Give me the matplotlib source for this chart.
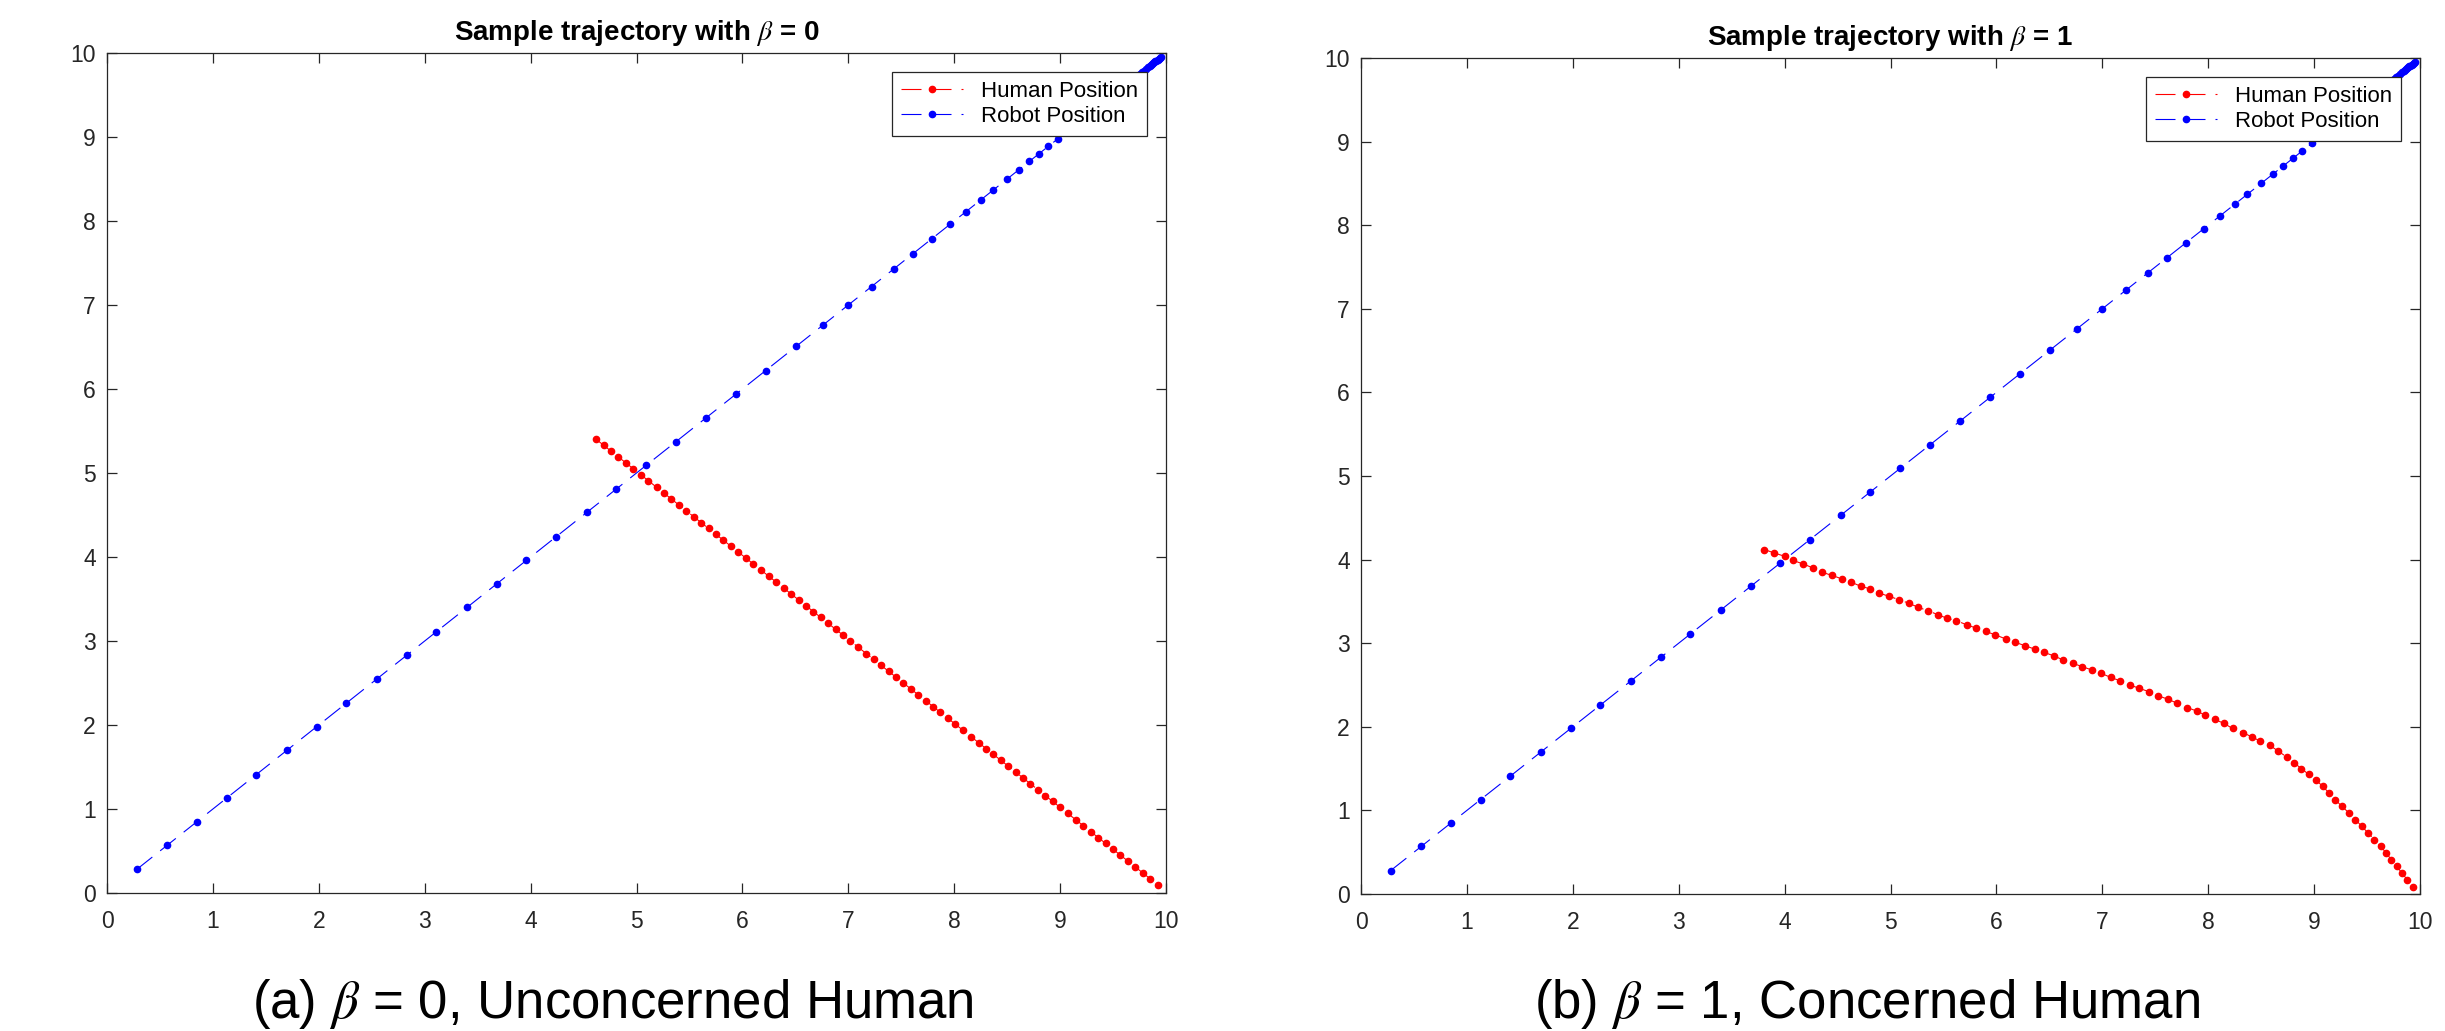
import matplotlib
matplotlib.use("Agg")
import matplotlib.pyplot as plt

# ---------------- data ----------------
robot_pos = [0.28, 0.57, 0.85, 1.13, 1.41, 1.70, 1.98, 2.26, 2.55, 2.83,
             3.11, 3.40, 3.68, 3.96, 4.24, 4.53, 4.81, 5.09, 5.37, 5.66,
             5.94, 6.22, 6.51, 6.76, 7.00, 7.22, 7.43, 7.61, 7.79, 7.96,
             8.11, 8.25, 8.37, 8.50, 8.61, 8.71, 8.80, 8.89, 8.98, 9.06,
             9.13, 9.20, 9.26, 9.32, 9.38, 9.43, 9.48, 9.53, 9.57, 9.61,
             9.65, 9.69, 9.72, 9.75, 9.77, 9.79, 9.81, 9.83, 9.85, 9.86,
             9.87, 9.88, 9.89, 9.90, 9.91, 9.92, 9.93, 9.94, 9.95]

human0_x = [4.62, 4.69, 4.76, 4.83, 4.90, 4.97, 5.04, 5.11, 5.19, 5.26,
            5.33, 5.40, 5.47, 5.54, 5.61, 5.68, 5.75, 5.82, 5.89, 5.96,
            6.03, 6.10, 6.18, 6.25, 6.32, 6.39, 6.46, 6.53, 6.60, 6.67,
            6.74, 6.81, 6.88, 6.95, 7.02, 7.09, 7.17, 7.24, 7.31, 7.38,
            7.45, 7.52, 7.59, 7.66, 7.73, 7.80, 7.87, 7.94, 8.01, 8.08,
            8.16, 8.23, 8.30, 8.37, 8.44, 8.51, 8.58, 8.65, 8.72, 8.79,
            8.86, 8.93, 9.00, 9.07, 9.15, 9.22, 9.29, 9.36, 9.43, 9.50,
            9.57, 9.64, 9.71, 9.78, 9.85, 9.92]
human0_y = [5.40, 5.33, 5.26, 5.19, 5.12, 5.05, 4.98, 4.91, 4.83, 4.76,
            4.69, 4.62, 4.55, 4.48, 4.41, 4.34, 4.27, 4.20, 4.13, 4.06,
            3.99, 3.92, 3.84, 3.77, 3.70, 3.63, 3.56, 3.49, 3.42, 3.35,
            3.28, 3.21, 3.14, 3.07, 3.00, 2.93, 2.85, 2.78, 2.71, 2.64,
            2.57, 2.50, 2.43, 2.36, 2.29, 2.22, 2.15, 2.08, 2.01, 1.94,
            1.86, 1.79, 1.72, 1.65, 1.58, 1.51, 1.44, 1.37, 1.30, 1.23,
            1.16, 1.09, 1.02, 0.95, 0.87, 0.80, 0.73, 0.66, 0.59, 0.52,
            0.45, 0.38, 0.31, 0.24, 0.17, 0.10]

human1_x = [3.81, 3.90, 4.00, 4.08, 4.17, 4.27, 4.35, 4.45, 4.54, 4.63,
            4.72, 4.81, 4.89, 4.99, 5.08, 5.17, 5.26, 5.35, 5.45, 5.53,
            5.62, 5.72, 5.81, 5.90, 5.99, 6.09, 6.18, 6.27, 6.36, 6.45,
            6.54, 6.63, 6.72, 6.81, 6.90, 6.99, 7.08, 7.17, 7.26, 7.35,
            7.44, 7.53, 7.62, 7.71, 7.80, 7.89, 7.97, 8.06, 8.15, 8.23,
            8.33, 8.41, 8.49, 8.58, 8.66, 8.74, 8.81, 8.88, 8.95, 9.02,
            9.08, 9.14, 9.20, 9.26, 9.33, 9.39, 9.45, 9.51, 9.57, 9.63,
            9.68, 9.73, 9.78, 9.83, 9.88, 9.93]
human1_y = [4.12, 4.08, 4.04, 3.99, 3.95, 3.90, 3.85, 3.81, 3.77, 3.73,
            3.68, 3.65, 3.60, 3.56, 3.52, 3.48, 3.43, 3.39, 3.34, 3.30,
            3.27, 3.22, 3.18, 3.14, 3.10, 3.05, 3.01, 2.97, 2.93, 2.89,
            2.85, 2.80, 2.76, 2.72, 2.68, 2.64, 2.59, 2.55, 2.50, 2.46,
            2.42, 2.37, 2.33, 2.28, 2.23, 2.19, 2.14, 2.09, 2.04, 1.98,
            1.93, 1.88, 1.83, 1.78, 1.71, 1.64, 1.57, 1.50, 1.43, 1.36,
            1.29, 1.21, 1.13, 1.05, 0.97, 0.89, 0.81, 0.73, 0.65, 0.57,
            0.49, 0.41, 0.33, 0.25, 0.17, 0.08]

tick_values = [0, 1, 2, 3, 4, 5, 6, 7, 8, 9, 10]
tick_labels = ["0", "1", "2", "3", "4", "5", "6", "7", "8", "9", "10"]
legend_labels = ["Human Position", "Robot Position"]
titles = [r"Sample trajectory with $\beta$ = 0", r"Sample trajectory with $\beta$ = 1"]
captions = [r"(a) $\beta$ = 0, Unconcerned Human", r"(b) $\beta$ = 1, Concerned Human"]

# ---------------- style ----------------
plt.rcParams["font.family"] = ["Liberation Sans", "DejaVu Sans"]
plt.rcParams["mathtext.fontset"] = "stix"

W, H = 2445, 1031
fig = plt.figure(figsize=(W / 100, H / 100), dpi=100)

axis_gray = "#262626"
dash = (0, (18, 9))

def make_axes(left_px, top_px, right_px, bottom_px):
    return fig.add_axes([left_px / W, 1 - bottom_px / H,
                         (right_px - left_px) / W, (bottom_px - top_px) / H])

panels = [
    (make_axes(107, 53, 1166, 893), human0_x, human0_y, titles[0]),
    (make_axes(1361, 58, 2420, 894), human1_x, human1_y, titles[1]),
]

for ax, hx, hy, title in panels:
    ax.plot(hx, hy, linestyle=dash, color=(1, 0, 0), lw=0.8,
            marker=".", ms=9, label=legend_labels[0])
    ax.plot(robot_pos, robot_pos, linestyle=dash, color=(0, 0, 1), lw=0.8,
            marker=".", ms=9, label=legend_labels[1])
    ax.set_xlim(0, 10)
    ax.set_ylim(0, 10)
    ax.set_xticks(tick_values)
    ax.set_xticklabels(tick_labels)
    ax.set_yticks(tick_values)
    ax.set_yticklabels(tick_labels)
    ax.tick_params(direction="in", length=7.2, width=0.9, colors=axis_gray,
                   labelsize=16.5, top=True, right=True)
    ax.tick_params(axis="x", pad=12)
    ax.tick_params(axis="y", pad=8)
    for s in ax.spines.values():
        s.set_color(axis_gray)
        s.set_linewidth(0.9)
    ax.set_title(title, fontsize=20, fontweight="bold", pad=9.4)
    leg = ax.legend(loc="upper right", fontsize=16, frameon=True, fancybox=False,
                    framealpha=1, edgecolor=axis_gray, borderaxespad=0.85,
                    handlelength=2.8, handletextpad=0.8, labelspacing=0.2,
                    borderpad=0.4, numpoints=1)
    leg.get_frame().set_linewidth(0.9)

fig.text(613 / W, 1 - 1018 / H, captions[0], fontsize=38, ha="center", va="baseline")
fig.text(1867 / W, 1 - 1018 / H, captions[1], fontsize=38, ha="center", va="baseline")

fig.savefig("out.png", dpi=100, facecolor="white")
